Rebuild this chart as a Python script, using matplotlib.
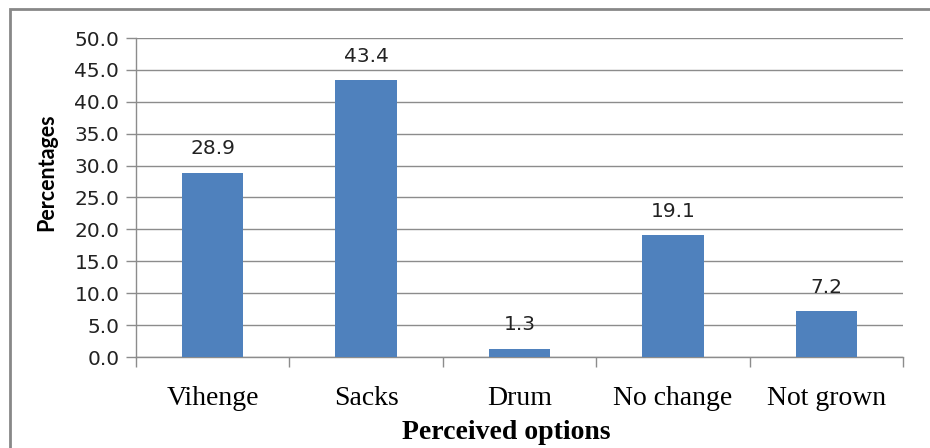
import matplotlib
matplotlib.use("Agg")
import matplotlib.pyplot as plt
from matplotlib.patches import Rectangle

categories = ["Vihenge", "Sacks", "Drum", "No change", "Not grown"]
percentages = [28.9, 43.4, 1.3, 19.1, 7.2]
y_ticks = [0, 5, 10, 15, 20, 25, 30, 35, 40, 45, 50]

bar_color = "#4F81BD"
grid_color = "#8C8C8C"

fig = plt.figure(figsize=(9.3, 4.48), dpi=100)
ax = fig.add_axes([136 / 930, 1 - 357 / 448, (903 - 136) / 930, (357 - 38) / 448])

x = list(range(len(categories)))
bars = ax.bar(x, percentages, width=0.40, color=bar_color, zorder=3)

ax.set_xlim(-0.5, len(categories) - 0.5)
ax.set_ylim(0, 50)
ax.set_yticks(y_ticks)
ax.set_yticklabels([f"{v:.1f}" for v in y_ticks], fontsize=14.5,
                   family="DejaVu Sans", color="#222222")
ax.yaxis.grid(True, color=grid_color, linewidth=1.0, zorder=0)

# category labels centred, tick marks at category boundaries
ax.set_xticks(x)
ax.set_xticklabels(categories, fontsize=20, family="Liberation Serif")
ax.tick_params(axis="x", length=0, pad=21)
ax.set_xticks([i - 0.5 for i in range(len(categories) + 1)], minor=True)
ax.tick_params(axis="x", which="minor", length=7, color=grid_color, width=1)
ax.tick_params(axis="y", length=7, color=grid_color, width=1, pad=5)

for side in ("top", "right"):
    ax.spines[side].set_visible(False)
for side in ("left", "bottom"):
    ax.spines[side].set_color(grid_color)
    ax.spines[side].set_linewidth(1.0)

for rect, val in zip(bars, percentages):
    ax.annotate(f"{val:.1f}", (rect.get_x() + rect.get_width() / 2, val),
                xytext=(0, 24), textcoords="offset pixels",
                ha="center", va="center", fontsize=14.5,
                family="DejaVu Sans", color="#222222")

fig.text(506 / 930, 1 - 432 / 448, "Perceived options", ha="center", va="center",
         fontsize=20, fontweight="bold", family="Liberation Serif")
fig.text(47 / 930, 1 - 172 / 448, "Percentages", ha="center", va="center",
         rotation=90, fontsize=15.5, fontweight="bold", family="Lato")

# outer chart frame
fig.patches.append(Rectangle((10 / 930, -0.2), 1.2, 0.2 + (448 - 9) / 448,
                             transform=fig.transFigure, fill=False,
                             edgecolor="#888888", linewidth=2))

fig.savefig("out.png", dpi=100)
